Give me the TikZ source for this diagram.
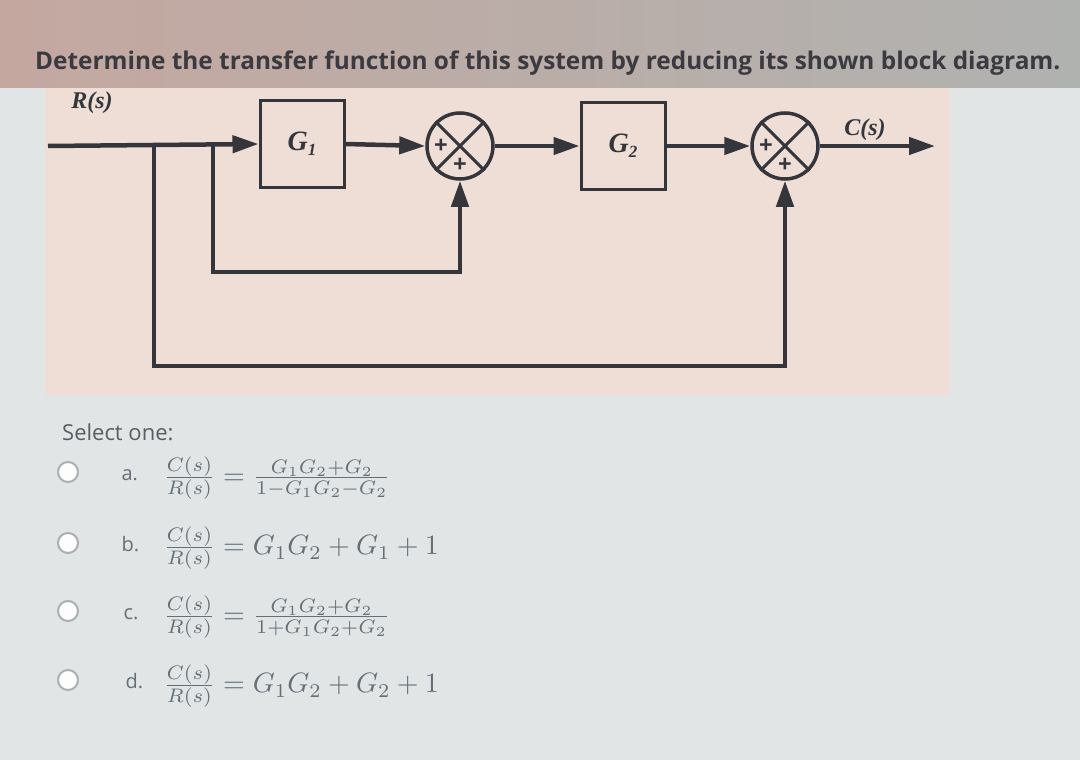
\documentclass[tikz,border=0pt]{standalone}
\usepackage{fontspec}
\usetikzlibrary{arrows.meta,shadings}
\newfontfamily\uifont{Open Sans}
\newfontfamily\labfont{Liberation Serif}
\definecolor{ink}{RGB}{52,54,60}
\definecolor{titlecol}{RGB}{58,58,64}
\definecolor{selcol}{RGB}{88,94,100}
\definecolor{mathcol}{RGB}{100,112,120}
\definecolor{radio}{RGB}{170,176,178}
\definecolor{bglow}{RGB}{226,229,229}
\definecolor{diagbg}{RGB}{238,222,214}
\definecolor{bandL}{RGB}{196,168,160}
\definecolor{bandR}{RGB}{176,178,176}
\begin{document}
\begin{tikzpicture}[x=1pt,y=-1pt,
  line/.style={line width=4.5pt,draw=ink,line join=miter},
  arr/.style={line,-{Triangle[length=26pt,width=17pt]}},
  blk/.style={draw=ink,line width=3pt,minimum width=84pt,minimum height=86pt,inner sep=0pt,
    font=\labfont\bfseries\itshape\fontsize{28}{30}\selectfont,text=ink},
  sumj/.style={draw=ink,circle,line width=3.5pt,minimum size=66pt,inner sep=0pt},
  plus/.style={font=\uifont\bfseries\fontsize{24}{24}\selectfont,text=ink,inner sep=0pt},
  siglab/.style={font=\labfont\bfseries\itshape\fontsize{24}{26}\selectfont,text=ink},
  radiob/.style={circle,draw=radio,fill=white!92!bglow,line width=2pt,minimum size=20pt,inner sep=0pt},
  optlab/.style={anchor=base west,font=\uifont\fontsize{20}{24}\selectfont,text=mathcol},
  eqn/.style={anchor=west,text=mathcol,inner sep=0pt}]
\useasboundingbox (0,0) rectangle (1080,760);
% backgrounds
\fill[bglow] (0,0) rectangle (1080,760);
\shade[left color=bandL,right color=bandR] (0,0) rectangle (1080,88);
\fill[diagbg] (45,88) rectangle (950,395);
% title
\node[anchor=base west,inner sep=0pt,text=titlecol] (title) at (35,70)
  {\resizebox{1025pt}{!}{\uifont\bfseries Determine the transfer function of this system by reducing its shown block diagram.}};
% blocks
\node[blk] (g1) at (302,144) {G\raisebox{-5pt}{\fontsize{17}{17}\selectfont 1}};
\node[sumj] (s1) at (460,146) {};
\node[blk] (g2) at (623,146) {G\raisebox{-5pt}{\fontsize{17}{17}\selectfont 2}};
\node[sumj] (s2) at (785,146) {};
\draw[line width=3pt,draw=ink] (s1.north west) -- (s1.south east) (s1.north east) -- (s1.south west);
\draw[line width=3pt,draw=ink] (s2.north west) -- (s2.south east) (s2.north east) -- (s2.south west);
\node[plus] (p1a) at ([xshift=-19pt]s1.center) {+};
\node[plus] (p1b) at ([yshift=-19pt]s1.center) {+};
\node[plus] (p2a) at ([xshift=-19pt]s2.center) {+};
\node[plus] (p2b) at ([yshift=-19pt]s2.center) {+};
% points
\coordinate (in) at (48,146);
\coordinate (b1) at (154,146);
\coordinate (b2) at (213,146);
\coordinate (out) at (935,146);
% labels
\node[siglab] (rlab) at (92,103) {R(s)};
\node[siglab] (clab) at (865,130) {C(s)};
% connectors
\draw[arr] (in) -- (g1.west);
\draw[arr] (g1.east) -- (s1.west);
\draw[arr] (s1.east) -- (g2.west);
\draw[arr] (g2.east) -- (s2.west);
\draw[arr] (s2.east) -- (out);
\draw[arr] (b2) -- (213,272) -| (s1.south);
\draw[arr] (b1) -- (154,366) -| (s2.south);
% options
\node[anchor=base west,font=\uifont\fontsize{22}{26}\selectfont,text=selcol,inner sep=0pt] (sel) at (62,440) {Select one:};
\node[radiob] (ra) at (68,472) {};
\node[radiob] (rb) at (68,543) {};
\node[radiob] (rc) at (68,611) {};
\node[radiob] (rd) at (68,680) {};
\node[optlab] (la) at (118,480) {a.};
\node[optlab] (lb) at (118,551) {b.};
\node[optlab] (lc) at (120,619) {c.};
\node[optlab] (ld) at (122,688) {d.};
\node[eqn] (ea) at (163,478) {\scalebox{2.8}{$\frac{C(s)}{R(s)}=\frac{G_1G_2+G_2}{1-G_1G_2-G_2}$}};
\node[eqn] (eb) at (163,548) {\scalebox{2.8}{$\frac{C(s)}{R(s)}=G_1G_2+G_1+1$}};
\node[eqn] (ec) at (163,617) {\scalebox{2.8}{$\frac{C(s)}{R(s)}=\frac{G_1G_2+G_2}{1+G_1G_2+G_2}$}};
\node[eqn] (ed) at (163,686) {\scalebox{2.8}{$\frac{C(s)}{R(s)}=G_1G_2+G_2+1$}};
\end{tikzpicture}
\end{document}
